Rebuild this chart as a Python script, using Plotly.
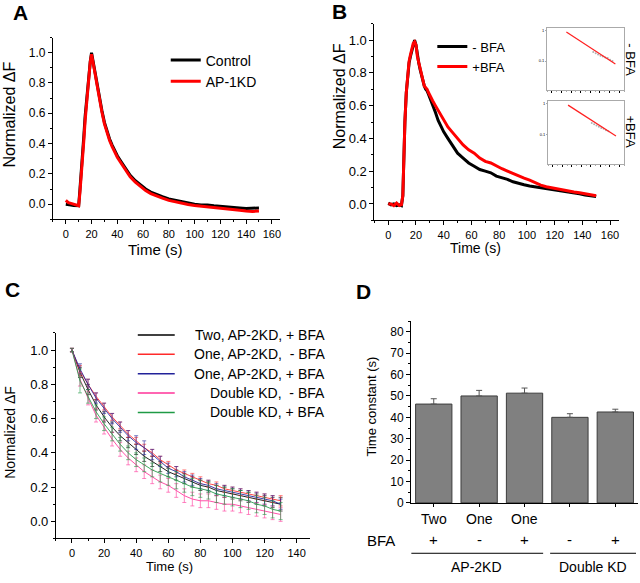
import plotly.graph_objects as go

FONT = "Arial, Liberation Sans, sans-serif"
W, H = 640, 583

# ---- panel A : Control vs AP-1KD ----
t_a = [0, 2, 4, 6, 8, 10, 11, 12, 13, 14, 15, 16, 17, 18, 19, 20, 21, 22, 23, 24,
       26, 28, 30, 32, 34, 36, 38, 40, 43, 46, 50, 54, 58, 62, 66, 70, 75, 80, 85,
       90, 95, 100, 105, 110, 115, 120, 125, 130, 135, 140, 145, 150]
control = [0.0, -0.005, -0.005, -0.008, -0.01, -0.01, 0.1, 0.2, 0.33, 0.45, 0.58,
           0.68, 0.78, 0.87, 0.94, 1.0, 0.95, 0.9, 0.85, 0.8, 0.71, 0.62, 0.54, 0.48,
           0.43, 0.39, 0.35, 0.32, 0.28, 0.24, 0.19, 0.155, 0.125, 0.1, 0.08, 0.065,
           0.05, 0.035, 0.025, 0.015, 0.008, 0.0, -0.005, -0.005, -0.01, -0.015,
           -0.02, -0.025, -0.025, -0.028, -0.025, -0.025]
ap1kd = [0.025, 0.01, 0.005, 0.0, -0.005, -0.01, 0.08, 0.18, 0.3, 0.42, 0.55, 0.66,
         0.76, 0.86, 0.94, 0.99, 0.95, 0.9, 0.85, 0.8, 0.7, 0.61, 0.53, 0.47, 0.42,
         0.38, 0.34, 0.31, 0.27, 0.23, 0.18, 0.145, 0.115, 0.09, 0.07, 0.055, 0.04,
         0.025, 0.015, 0.005, -0.002, -0.008, -0.012, -0.015, -0.02, -0.025, -0.03,
         -0.035, -0.04, -0.045, -0.048, -0.045]

# ---- panel B : -BFA vs +BFA ----
t_b = [0, 2, 4, 6, 8, 9.5, 10.5, 11, 12, 13, 14, 15, 16, 17, 18, 19, 20, 21, 22, 23,
       24, 25, 26, 27, 28, 29, 30, 32, 34, 36, 38, 40, 43, 46, 50, 54, 58, 62, 66,
       70, 74, 78, 82, 86, 90, 94, 98, 102, 106, 110, 114, 118, 122, 126, 130, 134,
       138, 142, 146, 150]
minus_bfa = [0.005, -0.005, 0.0, -0.01, -0.005, -0.01, 0.05, 0.25, 0.5, 0.68, 0.8,
             0.86, 0.9, 0.94, 0.97, 1.0, 0.97, 0.9, 0.86, 0.82, 0.78, 0.75, 0.72,
             0.7, 0.69, 0.67, 0.65, 0.6, 0.56, 0.51, 0.47, 0.44, 0.4, 0.36, 0.31,
             0.28, 0.25, 0.23, 0.21, 0.2, 0.19, 0.17, 0.16, 0.15, 0.135, 0.125,
             0.117, 0.11, 0.105, 0.1, 0.095, 0.088, 0.083, 0.078, 0.072, 0.067,
             0.062, 0.055, 0.048, 0.045]
plus_bfa = [0.0, 0.0, -0.01, 0.005, -0.01, -0.005, 0.05, 0.25, 0.5, 0.68, 0.8, 0.87,
            0.91, 0.95, 0.98, 0.99, 0.97, 0.9, 0.86, 0.82, 0.78, 0.75, 0.72, 0.71,
            0.7, 0.68, 0.66, 0.63, 0.6, 0.57, 0.54, 0.51, 0.47, 0.44, 0.4, 0.36,
            0.33, 0.31, 0.28, 0.26, 0.25, 0.23, 0.215, 0.2, 0.185, 0.17, 0.157,
            0.145, 0.13, 0.115, 0.105, 0.098, 0.093, 0.088, 0.08, 0.073, 0.068,
            0.062, 0.055, 0.05]

# insets (semi-log fits)
fit1_x = [40, 142]
fit1_y = [0.9, 0.08]
pts1_x = [96, 101, 106, 111, 116, 121, 126, 131, 136]
pts1_y = [0.2, 0.18, 0.165, 0.15, 0.14, 0.13, 0.125, 0.11, 0.1]
fit2_x = [42, 143]
fit2_y = [0.91, 0.09]
pts2_x = [92, 97, 102, 107, 112, 117, 122, 127]
pts2_y = [0.24, 0.22, 0.2, 0.18, 0.165, 0.155, 0.14, 0.13]

# ---- panel C : normalized decays ----
t_c = [0, 5, 10, 15, 20, 25, 30, 35, 40, 45, 50, 55, 60, 65, 70, 75, 80, 85, 90, 95,
       100, 105, 110, 115, 120, 125, 130]
c_names = ["Two, AP-2KD, + BFA", "One, AP-2KD,\u00a0\u00a0- BFA", "One, AP-2KD, + BFA",
           "Double KD,\u00a0\u00a0- BFA", "Double KD, + BFA"]
c_colors = ["#000000", "#ff2a2a", "#22229a", "#ff3399", "#1f9a45"]
c_two_plus = [1.0, 0.87, 0.77, 0.68, 0.61, 0.55, 0.5, 0.46, 0.42, 0.38, 0.35, 0.32,
              0.29, 0.27, 0.25, 0.23, 0.21, 0.2, 0.18, 0.17, 0.16, 0.15, 0.14, 0.13,
              0.12, 0.11, 0.1]
c_one_minus = [1.0, 0.88, 0.8, 0.73, 0.67, 0.61, 0.56, 0.51, 0.47, 0.43, 0.4, 0.36,
               0.33, 0.3, 0.28, 0.26, 0.24, 0.22, 0.21, 0.19, 0.18, 0.17, 0.16, 0.15,
               0.14, 0.13, 0.12]
c_one_plus = [1.0, 0.89, 0.8, 0.72, 0.66, 0.6, 0.55, 0.5, 0.46, 0.43, 0.39, 0.35,
              0.31, 0.29, 0.26, 0.24, 0.22, 0.21, 0.19, 0.18, 0.17, 0.16, 0.15, 0.14,
              0.13, 0.12, 0.1]
c_dbl_minus = [1.0, 0.83, 0.72, 0.62, 0.55, 0.48, 0.42, 0.37, 0.33, 0.29, 0.26, 0.23,
               0.21, 0.18, 0.15, 0.13, 0.12, 0.12, 0.11, 0.1, 0.1, 0.09, 0.08, 0.07,
               0.06, 0.05, 0.04]
c_dbl_plus = [1.0, 0.82, 0.73, 0.64, 0.57, 0.51, 0.45, 0.4, 0.36, 0.33, 0.3, 0.28,
              0.26, 0.24, 0.22, 0.2, 0.19, 0.18, 0.16, 0.15, 0.14, 0.13, 0.12, 0.1,
              0.09, 0.07, 0.06]
c_err = [
    [0.01, 0.03, 0.03, 0.03, 0.03, 0.03, 0.03, 0.03, 0.03, 0.03, 0.03, 0.03, 0.03, 0.03,
     0.03, 0.03, 0.03, 0.03, 0.03, 0.03, 0.03, 0.03, 0.03, 0.03, 0.03, 0.03, 0.04],
    [0.01, 0.03, 0.03, 0.02, 0.02, 0.02, 0.02, 0.02, 0.02, 0.02, 0.02, 0.02, 0.02, 0.02,
     0.02, 0.02, 0.02, 0.02, 0.02, 0.02, 0.02, 0.02, 0.02, 0.02, 0.02, 0.02, 0.03],
    [0.01, 0.03, 0.03, 0.03, 0.03, 0.03, 0.03, 0.03, 0.04, 0.04, 0.03, 0.03, 0.03, 0.03,
     0.03, 0.03, 0.03, 0.03, 0.03, 0.03, 0.03, 0.03, 0.03, 0.03, 0.03, 0.03, 0.03],
    [0.01, 0.04, 0.04, 0.04, 0.04, 0.04, 0.04, 0.04, 0.04, 0.04, 0.04, 0.04, 0.04, 0.04,
     0.04, 0.04, 0.04, 0.04, 0.04, 0.04, 0.04, 0.04, 0.04, 0.04, 0.04, 0.04, 0.04],
    [0.01, 0.07, 0.04, 0.04, 0.04, 0.04, 0.04, 0.04, 0.04, 0.04, 0.04, 0.05, 0.05, 0.05,
     0.05, 0.05, 0.05, 0.05, 0.05, 0.05, 0.05, 0.05, 0.05, 0.05, 0.05, 0.05, 0.05],
]

# ---- panel D : time constants ----
d_pos = [0, 1, 2, 3, 4]
d_prep = ["Two", "One", "One", "", ""]
d_bfa = ["+", "-", "+", "-", "+"]
d_tau = [46.2, 50.0, 51.3, 40.0, 42.5]
d_err = [2.5, 2.6, 2.4, 1.7, 1.3]


def px(x):
    return x / W


def py(y):
    return 1 - y / H


def ax(dom, rng, anchor, dtick=None, minor=None, size=11, **kw):
    d = dict(domain=dom, range=rng, anchor=anchor, showline=True, linecolor="black",
             linewidth=1, ticks="outside", ticklen=4, tickwidth=1, tickcolor="black",
             showgrid=False, zeroline=False,
             tickfont=dict(family=FONT, size=size, color="black"))
    if dtick is not None:
        d.update(dtick=dtick, tick0=0)
    if minor is not None:
        d["minor"] = dict(ticks="outside", ticklen=2, dtick=minor, tick0=0,
                          tickcolor="black", showgrid=False)
    d.update(kw)
    return d


fig = go.Figure()

fig.add_trace(go.Scatter(x=t_a, y=control, mode="lines", name="Control",
                         line=dict(color="black", width=3), xaxis="x", yaxis="y",
                         legend="legend"))
fig.add_trace(go.Scatter(x=t_a, y=ap1kd, mode="lines", name="AP-1KD",
                         line=dict(color="#ff0000", width=3), xaxis="x", yaxis="y",
                         legend="legend"))

fig.add_trace(go.Scatter(x=t_b, y=minus_bfa, mode="lines", name="- BFA",
                         line=dict(color="black", width=3), xaxis="x2", yaxis="y2",
                         legend="legend2"))
fig.add_trace(go.Scatter(x=t_b, y=plus_bfa, mode="lines", name="+BFA",
                         line=dict(color="#ff0000", width=3), xaxis="x2", yaxis="y2",
                         legend="legend2"))

for xs, ys, fx, fy, xa, ya in [(pts1_x, pts1_y, fit1_x, fit1_y, "x5", "y5"),
                               (pts2_x, pts2_y, fit2_x, fit2_y, "x6", "y6")]:
    fig.add_trace(go.Scatter(x=xs, y=ys, mode="markers", showlegend=False,
                             marker=dict(color="#b0b0b0", size=2), xaxis=xa, yaxis=ya))
    fig.add_trace(go.Scatter(x=fx, y=fy, mode="lines", showlegend=False,
                             line=dict(color="#ff2020", width=1.2), xaxis=xa, yaxis=ya))

c_series = [c_two_plus, c_one_minus, c_one_plus, c_dbl_minus, c_dbl_plus]
for name, col, ys, err in zip(c_names, c_colors, c_series, c_err):
    fig.add_trace(go.Scatter(x=t_c, y=ys, mode="lines", name=name, showlegend=False,
                             line=dict(color=col, width=1),
                             error_y=dict(type="data", array=err, color=col,
                                          thickness=0.7, width=2),
                             opacity=0.85, xaxis="x3", yaxis="y3"))

fig.add_trace(go.Bar(x=d_pos, y=d_tau, width=0.8, showlegend=False,
                     marker=dict(color="#808080", line=dict(color="#3c3c3c", width=1)),
                     error_y=dict(type="data", array=d_err, symmetric=False,
                                  arrayminus=[0] * 5, color="#555555", thickness=1,
                                  width=3),
                     xaxis="x4", yaxis="y4"))

lay = dict(
    width=W, height=H, margin=dict(l=0, r=0, t=0, b=0),
    paper_bgcolor="white", plot_bgcolor="rgba(0,0,0,0)",
    font=dict(family=FONT, color="black"),
    xaxis=ax([px(53), px(280)], [-10, 166], "y", 20, 10, 11),
    yaxis=ax([py(222), py(38)], [-0.1, 1.1], "x", 0.2, 0.1, 12, tickformat=".1f"),
    xaxis2=ax([px(375), px(620)], [-10, 166.5], "y2", 20, 10, 11),
    yaxis2=ax([py(223), py(24)], [-0.1, 1.1], "x2", 0.2, 0.1, 13, tickformat=".1f"),
    xaxis3=ax([px(56), px(310)], [-10, 148], "y3", 20, 10, 11),
    yaxis3=ax([py(545), py(337)], [-0.1, 1.1], "x3", 0.2, 0.1, 13, tickformat=".1f"),
    xaxis4=ax([px(411.7), px(639)], [-0.5, 4.5], "y4", size=14, tickvals=d_pos,
              showticklabels=False, ticklen=3),
    yaxis4=ax([py(509), py(325)], [0, 85], "x4", 10, 5, 12),
    xaxis5=ax([px(548), px(625)], [0, 160], "y5", 20, 10, 1, mirror=True,
              linecolor="#aaaaaa", tickcolor="#aaaaaa", ticklen=1, showticklabels=False),
    yaxis5=ax([py(91), py(28)], [-1.95, 0.1], "x5", size=4, type="log", mirror=True,
              linecolor="#aaaaaa", tickcolor="#aaaaaa", ticklen=1, tickvals=[0.1, 1],
              ticktext=["0.1", "1"]),
    xaxis6=ax([px(549), px(625)], [0, 160], "y6", 20, 10, 1, mirror=True,
              linecolor="#aaaaaa", tickcolor="#aaaaaa", ticklen=1, showticklabels=False),
    yaxis6=ax([py(166), py(102)], [-1.95, 0.1], "x6", size=4, type="log", mirror=True,
              linecolor="#aaaaaa", tickcolor="#aaaaaa", ticklen=1, tickvals=[0.1, 1],
              ticktext=["0.1", "1"]),
    legend=dict(x=px(166), y=py(45), xanchor="left", yanchor="top",
                bgcolor="rgba(0,0,0,0)", font=dict(family=FONT, size=14)),
    legend2=dict(x=px(433), y=py(32), xanchor="left", yanchor="top",
                 bgcolor="rgba(0,0,0,0)", font=dict(family=FONT, size=13)),
    bargap=0.2,
)
fig.update_layout(**lay)

ann = []
shapes = []


def text(x, y, s, size, angle=0, bold=False, xanchor="center", color="black"):
    ann.append(dict(x=px(x), y=py(y), xref="paper", yref="paper", text=s,
                    showarrow=False, textangle=angle, xanchor=xanchor,
                    yanchor="middle", borderpad=0,
                    font=dict(family=FONT, size=size, color=color,
                              weight="bold" if bold else "normal")))


# panel letters
text(21, 13, "A", 21, bold=True)
text(340, 12, "B", 21, bold=True)
text(13, 293, "C", 21, bold=True)
text(364, 295, "D", 21, bold=True)

# axis titles
text(10, 116, "Normalized \u0394F", 16, angle=-90)
text(155, 253, "Time (s)", 15)
text(340, 97, "Normalized \u0394F", 16, angle=-90)
text(476, 251, "Time (s)", 14)
text(10, 437, "Normalized \u0394F", 14, angle=-90)
text(170, 573, "Time (s)", 13)
text(372, 411, "Time constant (s)", 13, angle=-90)

# inset labels
text(632, 60, "- BFA", 13, angle=90)
text(632, 133, "+BFA", 13, angle=90)

# panel C legend
for i, (name, col) in enumerate(zip(c_names, c_colors)):
    yy = 339 + i * 19.6
    shapes.append(dict(type="line", xref="paper", yref="paper", x0=px(138),
                       x1=px(175), y0=py(yy), y1=py(yy),
                       line=dict(color=col, width=1.5)))
    text(327, yy, name, 14, xanchor="right")

# panel D category rows
text(382, 547, "BFA", 15)
for p, s, b in zip(d_pos, d_prep, d_bfa):
    if s:
        ann.append(dict(x=p, y=py(525), xref="x4", yref="paper", text=s,
                        showarrow=False, yanchor="middle", borderpad=0,
                        font=dict(family=FONT, size=14, color="black")))
    ann.append(dict(x=p, y=py(546), xref="x4", yref="paper", text=b, showarrow=False,
                    yanchor="middle", borderpad=0,
                    font=dict(family=FONT, size=15, color="black")))
shapes.append(dict(type="line", xref="paper", yref="paper", x0=px(412), x1=px(544),
                   y0=py(560), y1=py(560), line=dict(color="black", width=1)))
shapes.append(dict(type="line", xref="paper", yref="paper", x0=px(551), x1=px(637),
                   y0=py(560), y1=py(560), line=dict(color="black", width=1)))
text(477, 574, "AP-2KD", 14)
text(594, 574, "Double KD", 14)

fig.update_layout(annotations=ann, shapes=shapes)
fig.write_html("out.html", config={"displayModeBar": False},
               post_script="document.documentElement.style.overflow='hidden';"
                           "document.body.style.margin='0';"
                           "document.body.style.overflow='hidden';"
                           "var g=document.getElementById('{plot_id}');"
                           "g.style.position='fixed';g.style.left='0';g.style.top='0';")
